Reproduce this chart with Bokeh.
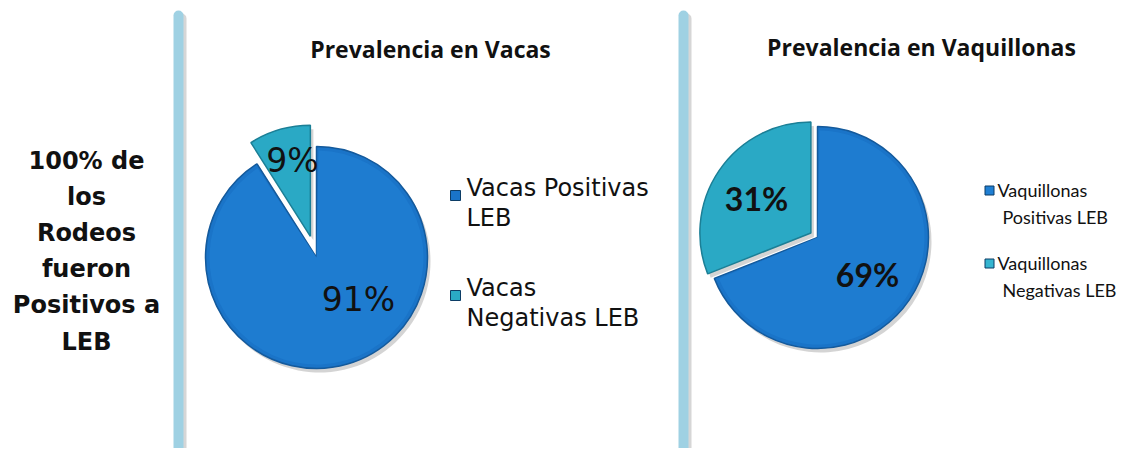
import math
from bokeh.plotting import figure
from bokeh.models import Range1d
from bokeh.core.properties import value
from bokeh.embed import file_html
from bokeh.resources import INLINE

# ---- data ----
vacas_labels = ["Vacas Positivas LEB", "Vacas Negativas LEB"]
vacas_values = [91, 9]
vaq_labels = ["Vaquillonas Positivas LEB", "Vaquillonas Negativas LEB"]
vaq_values = [69, 31]
titles = ["Prevalencia en Vacas", "Prevalencia en Vaquillonas"]
side_text = ["100% de", "los", "Rodeos", "fueron", "Positivos a", "LEB"]

BLUE = "#1a74c8"
TEAL = "#2aa9c5"
BLUE_EDGE = "#145a9c"
TEAL_EDGE = "#1b7f96"

W, H = 1130, 448
p = figure(width=W, height=H, output_backend="svg", toolbar_location=None,
           x_range=Range1d(0, W), y_range=Range1d(451 - H, 451),
           min_border=0, outline_line_color=None, background_fill_color="white")
p.axis.visible = False
p.grid.visible = False

def Y(py):
    return 451 - py

# vertical separators
for bx in (178, 683):
    p.line([bx + 3, bx + 3], [Y(18), Y(460)], line_width=10, line_color="#bbbbbb",
           line_alpha=0.6, line_cap="round")
    p.line([bx, bx], [Y(15), Y(460)], line_width=10, line_color="#9fd1e3", line_cap="round")

def pie(cx, cy, values, explode, r, lab_pos, lab_font, lab_size, lab_style):
    total = float(sum(values))
    neg = values[1] / total
    a0 = math.pi / 2
    a1 = a0 + 2 * math.pi * neg
    mid = (a0 + a1) / 2
    ox, oy = explode * math.cos(mid), explode * math.sin(mid)
    # shadows
    p.wedge(x=cx + 3, y=cy - 4, radius=r, start_angle=a1, end_angle=a0 + 2 * math.pi,
            fill_color="#555555", fill_alpha=0.25, line_color=None)
    p.wedge(x=cx + ox + 3, y=cy + oy - 4, radius=r, start_angle=a0, end_angle=a1,
            fill_color="#555555", fill_alpha=0.25, line_color=None)
    # main slice
    p.wedge(x=cx, y=cy, radius=r, start_angle=a1, end_angle=a0 + 2 * math.pi,
            fill_color=BLUE, line_color=BLUE_EDGE, line_width=1.5)
    p.wedge(x=cx, y=cy, radius=r - 4, start_angle=a1 + 0.02, end_angle=a0 + 2 * math.pi - 0.02,
            fill_color="#1e7cd0", line_color=None)
    # exploded slice
    p.wedge(x=cx + ox, y=cy + oy, radius=r, start_angle=a0, end_angle=a1,
            fill_color=TEAL, line_color=TEAL_EDGE, line_width=1.5)
    for (lx, ly), v in zip(lab_pos, values):
        p.text(x=[lx], y=[Y(ly)], text=[f"{v}%"], text_align="center",
               text_baseline="middle", text_font=value(lab_font),
               text_font_size=lab_size, text_font_style=lab_style, text_color="#111111")

pie(316, Y(257), vacas_values, 22, 111, [(358, 299), (292, 160)],
    "DejaVu Sans", "33px", "normal")
pie(817, Y(237), vaq_values, 8, 111, [(867, 274), (756, 198)],
    "Lato", "32px", "bold")

# titles
p.text(x=[430], y=[Y(48)], text=[titles[0]], text_align="center", text_baseline="middle",
       text_font=value("Open Sans"), text_font_size="23px", text_font_style="bold",
       text_color="#111111")
p.text(x=[921], y=[Y(46)], text=[titles[1]], text_align="center", text_baseline="middle",
       text_font=value("Open Sans"), text_font_size="23px", text_font_style="bold",
       text_color="#111111")

# side text
for i, t in enumerate(side_text):
    p.text(x=[86], y=[Y(160 + 36.2 * i)], text=[t], text_align="center", text_baseline="middle",
           text_font=value("DejaVu Sans"), text_font_size="24px", text_font_style="bold",
           text_color="#111111")

# legend 1 (Vacas)
leg1 = [("Vacas Positivas", "LEB"), ("Vacas", "Negativas LEB")]
for (l1, l2), col, y0 in zip(leg1, [BLUE, TEAL], [187, 287]):
    p.scatter(x=[455], y=[Y(y0 + 8)], marker="square", size=10, fill_color=col,
              line_color="#0d3d66")
    p.text(x=[466, 466], y=[Y(y0), Y(y0 + 30)], text=[l1, l2], text_align="left",
           text_baseline="middle", text_font=value("DejaVu Sans"), text_font_size="24px",
           text_font_style="normal", text_color="#111111")

# legend 2 (Vaquillonas)
leg2 = [("Vaquillonas", "Positivas LEB"), ("Vaquillonas", "Negativas LEB")]
for (l1, l2), col, y0 in zip(leg2, ["#1f7fd3", "#35b5d0"], [189, 262]):
    p.scatter(x=[989], y=[Y(y0 + 1)], marker="square", size=9, fill_color=col,
              line_color="#0d3d66")
    p.text(x=[997, 1002], y=[Y(y0), Y(y0 + 27)], text=[l1, l2], text_align="left",
           text_baseline="middle", text_font=value("Lato"), text_font_size="18px",
           text_font_style="normal", text_color="#111111")

open("out.html", "w").write(file_html(p, INLINE))
